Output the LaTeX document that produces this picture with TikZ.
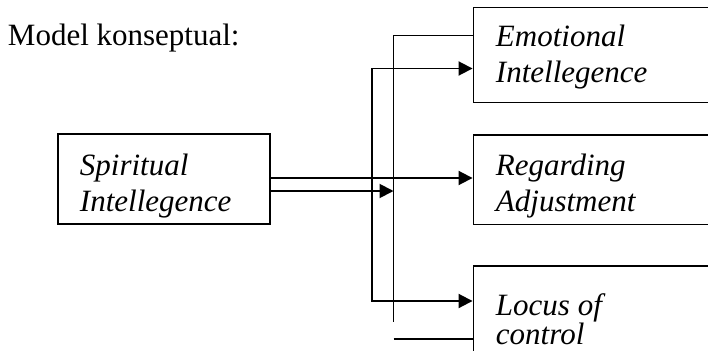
\documentclass[tikz,border=0pt]{standalone}
\usepackage{fontspec}
\setmainfont{Liberation Serif}
\usetikzlibrary{arrows.meta}
\begin{document}
\begin{tikzpicture}[x=1pt,y=-1pt,line width=1.9pt,
  box/.style={draw,rectangle,inner sep=0pt},
  lbl/.style={inner sep=0pt,anchor=base west,font=\fontsize{31}{36}\selectfont\itshape},
  arr/.style={-{Triangle[length=14pt,width=14pt]}},
  both/.style={{Triangle[length=14pt,width=14pt]}-{Triangle[length=14pt,width=14pt]}}]
\useasboundingbox (0,0) rectangle (708,350);
\begin{scope}
\clip (0,0) rectangle (708,350);
% heading
\node[inner sep=0pt,anchor=base west,font=\fontsize{31}{36}\selectfont] (title) at (7,46) {Model konseptual:};
% boxes (the right-hand ones run off the page)
\node[box,minimum width=211.7pt,minimum height=89.7pt] (spi) at (164.15,179.15) {};
\node[box,minimum width=256.5pt,minimum height=95pt] (emo) at (601.75,55) {};
\node[box,minimum width=256.5pt,minimum height=89.5pt] (reg) at (601.75,179.75) {};
\node[box,minimum width=256.5pt,minimum height=95pt] (loc) at (601.75,313.5) {};
% box texts
\node[lbl] (spi1) at (79,175) {Spiritual};
\node[lbl] (spi2) at (79,211) {Intellegence};
\node[lbl] (emo1) at (495,46.7) {Emotional};
\node[lbl] (emo2) at (495,83) {Intellegence};
\node[lbl] (reg1) at (495,175) {Regarding};
\node[lbl] (reg2) at (495,211) {Adjustment};
\node[lbl] (loc1) at (495,315) {Locus of};
\node[lbl] (loc2) at (495,344) {control};
% bus lines and their levels
\coordinate (aTop) at (372,68.5);
\coordinate (aBot) at (372,301);
\coordinate (bTop) at (393.5,35.5);
\coordinate (bBot) at (393.5,322);
\coordinate (y1) at (0,178);
\coordinate (y2) at (0,191);
\coordinate (y5) at (0,339);
% connectors
\draw[arr] (spi.east |- y1) -- (reg.west |- y1);
\draw[arr] (spi.east |- y2) -- (bTop |- y2);
\draw[both] (emo.west |- aTop) -- (aTop) -- (aBot) -- (loc.west |- aBot);
\draw (emo.west |- bTop) -- (bTop) -- (bBot);
\draw (bTop |- y5) -- (loc.west |- y5);
\end{scope}
\end{tikzpicture}
\end{document}
